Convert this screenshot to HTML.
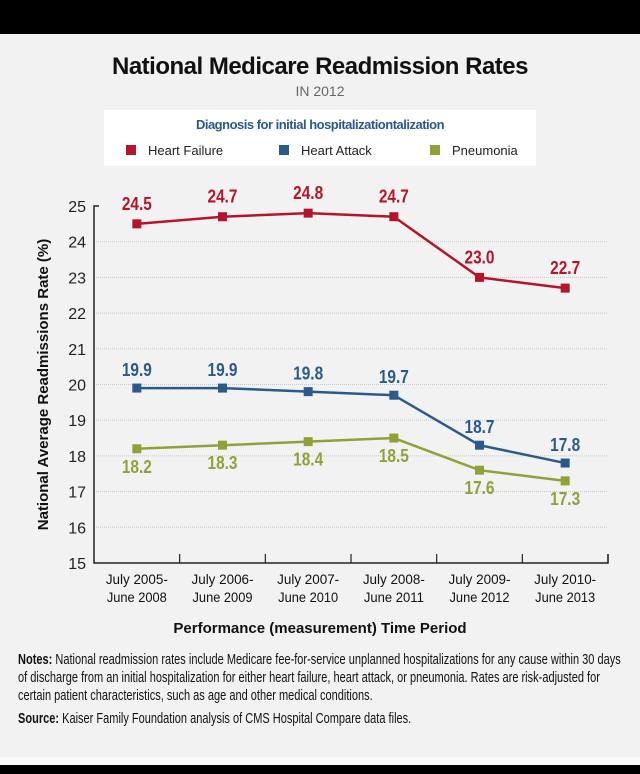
<!DOCTYPE html>
<html><head><meta charset="utf-8"><style>
body{margin:0;width:640px;height:774px;background:#f2f2f2;overflow:hidden;font-family:"Liberation Sans",sans-serif;position:relative}
.abs{position:absolute}
.narrow{transform:scaleX(0.76);transform-origin:0 0}
</style></head><body>
<div class="abs" style="left:0;top:0;width:640px;height:34px;background:#000"></div>
<div class="abs" style="left:0;top:53px;width:640px;text-align:center;font-size:24px;font-weight:bold;color:#111;letter-spacing:-0.5px">National Medicare Readmission Rates</div>
<div class="abs" style="left:0;top:83px;width:640px;text-align:center;font-size:14px;color:#666">IN 2012</div>
<div class="abs" style="left:104px;top:110px;width:432px;height:56px;background:#fff">
 <div class="abs" style="left:0;top:7px;width:432px;text-align:center;font-size:13px;font-weight:bold;color:#2a5a8c;letter-spacing:-0.5px">Diagnosis for initial hospitalizationtalization</div>
 <div class="abs" style="left:22px;top:33px;font-size:13px;color:#222"><span style="display:inline-block;width:10px;height:10px;background:#b5152b;margin-right:12px"></span>Heart Failure</div>
 <div class="abs" style="left:175px;top:33px;font-size:13px;color:#222"><span style="display:inline-block;width:10px;height:10px;background:#2a5a8c;margin-right:12px"></span>Heart Attack</div>
 <div class="abs" style="left:326px;top:33px;font-size:13px;color:#222"><span style="display:inline-block;width:10px;height:10px;background:#93a03a;margin-right:12px"></span>Pneumonia</div>
</div>
<svg class="abs" style="left:0;top:0" width="640" height="774" id="chart"></svg>
<div class="abs" style="left:0;top:620px;width:640px;text-align:center;font-size:15px;font-weight:bold;color:#111">Performance (measurement) Time Period</div>
<div class="abs narrow" style="left:18px;top:651px;width:800px;font-size:14.5px;line-height:18px;color:#111"><b>Notes:</b> National readmission rates include Medicare fee-for-service unplanned hospitalizations for any cause within 30 days of discharge from an initial hospitalization for either heart failure, heart attack, or pneumonia. Rates are risk-adjusted for certain patient characteristics, such as age and other medical conditions.</div>
<div class="abs narrow" style="left:18px;top:711px;font-size:14.5px;color:#111;white-space:nowrap"><b>Source:</b> Kaiser Family Foundation analysis of CMS Hospital Compare data files.</div>
<div class="abs" style="left:0;top:757px;width:640px;height:8px;background:#fafafa"></div>
<div class="abs" style="left:0;top:765px;width:640px;height:9px;background:#000"></div>
<script>
const categories=[["July 2005-","June 2008"],["July 2006-","June 2009"],["July 2007-","June 2010"],["July 2008-","June 2011"],["July 2009-","June 2012"],["July 2010-","June 2013"]];
const heartFailure=[24.5,24.7,24.8,24.7,23.0,22.7];
const heartAttack=[19.9,19.9,19.8,19.7,18.3,17.8];
const heartAttackLabels=["19.9","19.9","19.8","19.7","18.7","17.8"];
const pneumonia=[18.2,18.3,18.4,18.5,17.6,17.3];
const yTicks=[15,16,17,18,19,20,21,22,23,24,25];
const svg=document.getElementById('chart');
const NS='http://www.w3.org/2000/svg';
const L=94,R=608,B=563,T=206,yMin=15,yMax=25;
const y=v=>B-(v-yMin)/(yMax-yMin)*(B-T);
const bw=(R-L)/categories.length;
const x=i=>L+bw*(i+0.5);
function mk(tag,attrs,txt){const e=document.createElementNS(NS,tag);for(const k in attrs)e.setAttribute(k,attrs[k]);if(txt!==undefined)e.textContent=txt;svg.appendChild(e);return e;}
yTicks.forEach(v=>{
 if(v>yMin&&v<yMax){const g=mk('line',{x1:L,x2:R,y1:y(v),y2:y(v),stroke:'#c8c8c8','stroke-dasharray':'1,1'});
 
 }
 const t=mk('text',{x:L-8,y:y(v)+6,'text-anchor':'end','font-size':16,fill:'#222'},v);
 
 
});
const ax=mk('path',{d:`M${L+5},${T} H${L} V${B} H${R} V${B-9}`,stroke:'#222','stroke-width':1.5,fill:'none'});


categories.forEach((c,i)=>{
 const tk=mk('line',{x1:L+bw*(i+1),x2:L+bw*(i+1),y1:B,y2:B-9,stroke:'#222','stroke-width':1.2});
 
 
 c.forEach((s,j)=>{const t=mk('text',{x:x(i),y:B+21+j*18,'text-anchor':'middle','font-size':14,fill:'#111',textLength:s.length>9?62:60,lengthAdjust:'spacingAndGlyphs'},s);
 
 });
});
const yt=mk('text',{x:0,y:0,transform:`translate(48,${(T+B)/2}) rotate(-90)`,'text-anchor':'middle','font-size':15,'font-weight':'bold',fill:'#111'},'National Average Readmissions Rate (%)');


function series(data,labels,color,name,dy){
 const p=mk('polyline',{points:data.map((v,i)=>x(i)+','+y(v)).join(' '),stroke:color,'stroke-width':2.5,fill:'none'});
 
 
 data.forEach((v,i)=>{
  const r=mk('rect',{x:x(i)-4.5,y:y(v)-4.5,width:9,height:9,fill:color});
  
  
  const t=mk('text',{x:x(i),y:y(v)+dy,'text-anchor':'middle','font-size':18,'font-weight':'bold',fill:color,textLength:30,lengthAdjust:'spacingAndGlyphs'},labels[i]);
  
  
 });
}
series(heartFailure,heartFailure.map(v=>v.toFixed(1)),'#b5152b','heart-failure',-14);
series(heartAttack,heartAttackLabels,'#2a5a8c','heart-attack',-12);
series(pneumonia,pneumonia.map(v=>v.toFixed(1)),'#93a03a','pneumonia',24);
</script>
</body></html>
